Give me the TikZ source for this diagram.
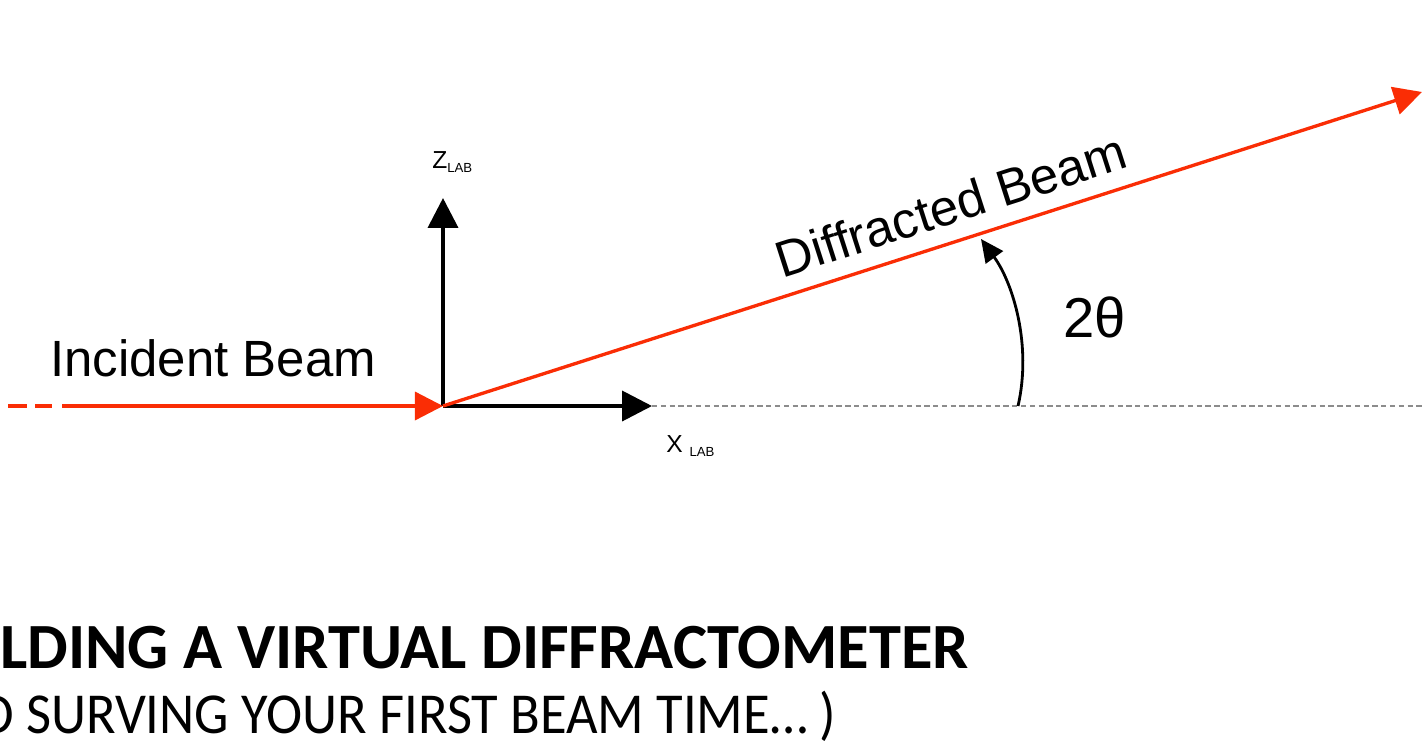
\documentclass[tikz,border=0pt]{standalone}
\usepackage{fontspec}
\setmainfont{Liberation Sans}
\newfontfamily\titlefont{Carlito}
\newfontfamily\subtitlefont[FakeStretch=0.94]{Carlito}
\usepackage{tikz}
\usetikzlibrary{arrows.meta,positioning,calc}
\definecolor{beamred}{RGB}{250,45,5}

\begin{document}
\begin{tikzpicture}[
    x=0.02cm, y=0.02cm,
    beam/.style={draw=beamred, line width=1.9pt, -{Triangle[length=16pt, width=16pt]}},
    axis/.style={draw=black, line width=2.2pt, -{Triangle[length=17pt, width=17pt]}},
    angarrow/.style={draw=black, line width=1.6pt, -{Triangle[length=13pt, width=12pt]}},
    refline/.style={draw=black!45, line width=0.7pt, dash pattern=on 3pt off 2pt},
    bigtext/.style={font=\fontsize{29}{33}\selectfont, inner sep=0pt},
    smalltext/.style={font=\fontsize{14}{16}\selectfont, inner sep=0pt}
]
\useasboundingbox (0,0) rectangle (1422,745);

% Coordinates
\coordinate (origin) at (443,339);
\coordinate (source) at (8,339);
\coordinate (ztip) at (443,547);
\coordinate (xtip) at (652,339);
\coordinate (xend) at (1422,339);
\coordinate (dtip) at (1422,653);
\coordinate (arcfoot) at (1018,339);
\coordinate (arctip) at (981,506);

% Nodes
\node[bigtext, anchor=base west] (incident) at (50,369) {Incident Beam};
\node[font=\fontsize{32}{36}\selectfont, inner sep=0pt, anchor=base west] (twotheta) at (1063,408) {2θ};
\node[smalltext, anchor=base west] (zlab) at (432,577) {Z\raisebox{-0.35ex}{\fontsize{7.5}{8}\selectfont LAB}};
\node[smalltext, anchor=base west] (xlab) at (666,293) {X \raisebox{-0.35ex}{\fontsize{7.5}{8}\selectfont LAB}};
\node[inner sep=0pt, anchor=base west, font=\titlefont\bfseries\fontsize{36.7}{40}\selectfont] (title) at (0,77) {LDING A VIRTUAL DIFFRACTOMETER};
\node[inner sep=0pt, anchor=base west, font=\subtitlefont\fontsize{33}{36}\selectfont] (subtitle) at (-20,12) {D SURVING YOUR FIRST BEAM TIME… )};

% Edges
\draw[refline] (xtip) -- (xend);
\draw[axis] (origin) -- (ztip);
\draw[axis] (origin) -- (xtip);
\draw[beam, dash pattern=on 11pt off 4.5pt on 9.6pt off 5.7pt on 400pt] (source) -- (origin);
\draw[beam] (origin) -- (dtip)
    node[bigtext, sloped, above=9pt, pos=0.53] (diffracted) {Diffracted Beam};
\draw[angarrow] (arcfoot) .. controls (1032,400) and (1013,462) .. (arctip);
\end{tikzpicture}
\end{document}
